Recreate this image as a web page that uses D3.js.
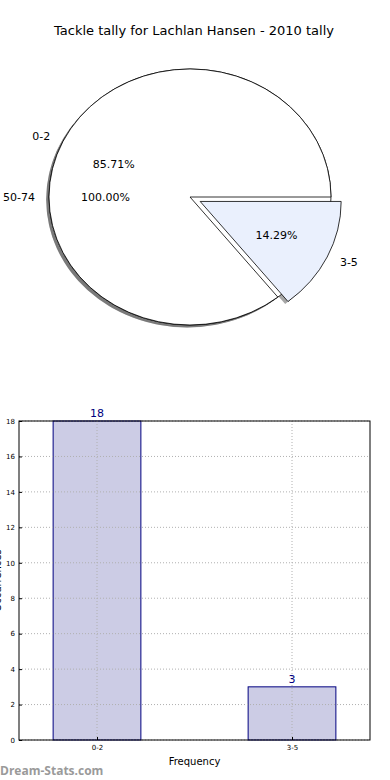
<!DOCTYPE html>
<html>
<head>
<meta charset="utf-8">
<script src="https://cdn.jsdelivr.net/npm/d3@7"></script>
<style>
  body { margin: 0; background: #fff; }
  svg { display: block; font-family: "DejaVu Sans", sans-serif; }
</style>
</head>
<body>
<div id="chart"></div>
<script>
const title = "Tackle tally for Lachlan Hansen - 2010 tally";

// old pie left underneath (single full slice)
const backLabels = ["50-74"];
const backValues = [1];

// current pie
const pieLabels = ["0-2", "3-5"];
const pieValues = [18, 3];
const pieColors = ["#ffffff", "#eaf0fd"];
const pieExplode = [0, 0.08];

// bar chart
const barCats = ["0-2", "3-5"];
const barValues = [18, 3];
const yTicks = [0, 2, 4, 6, 8, 10, 12, 14, 16, 18];

const width = 390, height = 780;
const svg = d3.select("#chart").append("svg")
    .attr("width", width)
    .attr("height", height);

svg.append("text")
    .attr("x", 194).attr("y", 35)
    .attr("text-anchor", "middle")
    .attr("font-size", 13)
    .text(title);

// ---- pie (ellipse: axes are not equal) ----
const cx = 190, cy = 197, rx = 141, ry = 128;

// matplotlib: start at 3 o'clock, counter-clockwise
const pie = d3.pie().sort(null).startAngle(Math.PI / 2).endAngle(Math.PI / 2 - 2 * Math.PI);
const arc = d3.arc().innerRadius(0).outerRadius(1);

function mid(d) {
    // convert d3 angle back to math angle
    const a = (d.startAngle + d.endAngle) / 2;
    return Math.PI / 2 - a;
}

function wedges(values, explode) {
    return pie(values).map((d, i) => {
        const t = mid(d);
        const e = explode ? explode[i] : 0;
        d.ox = cx + e * rx * Math.cos(t);
        d.oy = cy - e * ry * Math.sin(t);
        d.t = t;
        return d;
    });
}

const back = wedges(backValues, null);
const front = wedges(pieValues, pieExplode);
const total = d3.sum(pieValues);

const pg = svg.append("g");

function drawShadows(list) {
    pg.selectAll(null).data(list).enter().append("path")
        .attr("d", arc)
        .attr("transform", d => `translate(${d.ox - 0.02 * rx},${d.oy + 0.02 * ry}) scale(${rx},${ry})`)
        .attr("fill", "#4d4d4d")
        .attr("fill-opacity", 0.5)
        .attr("stroke", "none");
}
function drawWedges(list, colors) {
    pg.selectAll(null).data(list).enter().append("path")
        .attr("d", arc)
        .attr("transform", d => `translate(${d.ox},${d.oy}) scale(${rx},${ry})`)
        .attr("fill", (d, i) => colors[i])
        .attr("stroke", "#000")
        .attr("stroke-width", 0.8)
        .attr("vector-effect", "non-scaling-stroke");
}

// shadows sit under every wedge
drawShadows(back);
drawShadows(front);
drawWedges(back, ["#ffffff"]);
drawWedges(front, pieColors);

function drawTexts(list, labels, sum) {
    list.forEach((d, i) => {
        const c = Math.cos(d.t), s = Math.sin(d.t);
        pg.append("text")
            .attr("x", d.ox + 1.1 * rx * c)
            .attr("y", d.oy - 1.1 * ry * s)
            .attr("dy", "0.35em")
            .attr("text-anchor", c < 0 ? "end" : "start")
            .attr("font-size", 11)
            .text(labels[i]);
        pg.append("text")
            .attr("x", d.ox + 0.6 * rx * c)
            .attr("y", d.oy - 0.6 * ry * s)
            .attr("dy", "0.35em")
            .attr("text-anchor", "middle")
            .attr("font-size", 11)
            .text((100 * d.value / sum).toFixed(2) + "%");
    });
}
drawTexts(back, backLabels, d3.sum(backValues));
drawTexts(front, pieLabels, total);

// ---- bar chart ----
const m = { left: 19, right: 370, top: 421, bottom: 740 };
const x = d3.scaleLinear().domain([-0.4, barCats.length - 0.6]).range([m.left, m.right]);
const y = d3.scaleLinear().domain([0, 18]).range([m.bottom, m.top]);
const barW = 0.45;

const bg = svg.append("g");

bg.selectAll(".bar").data(barValues).enter().append("rect")
    .attr("class", "bar")
    .attr("x", (d, i) => x(i - barW / 2))
    .attr("width", x(barW) - x(0))
    .attr("y", d => y(d))
    .attr("height", d => y(0) - y(d))
    .attr("fill", "#cccce5")
    .attr("stroke", "#000080")
    .attr("stroke-width", 1);

// grid
bg.selectAll(".hg").data(yTicks).enter().append("line")
    .attr("x1", m.left).attr("x2", m.right)
    .attr("y1", d => y(d)).attr("y2", d => y(d))
    .attr("stroke", "#b0b0b0").attr("stroke-dasharray", "1,2");
bg.selectAll(".vg").data(barCats).enter().append("line")
    .attr("x1", (d, i) => x(i)).attr("x2", (d, i) => x(i))
    .attr("y1", m.top).attr("y2", m.bottom)
    .attr("stroke", "#b0b0b0").attr("stroke-dasharray", "1,2");

// frame
bg.append("rect")
    .attr("x", m.left).attr("y", m.top)
    .attr("width", m.right - m.left).attr("height", m.bottom - m.top)
    .attr("fill", "none").attr("stroke", "#000").attr("stroke-width", 1);

const yAxis = d3.axisLeft(y).tickValues(yTicks).tickSize(-3).tickPadding(4);
bg.append("g").attr("transform", `translate(${m.left},0)`).call(yAxis)
    .call(g => g.select(".domain").remove())
    .call(g => g.selectAll("text").attr("font-size", 7).attr("font-family", "DejaVu Sans"));

const xAxis = d3.axisBottom(x).tickValues(barCats.map((d, i) => i))
    .tickFormat(i => barCats[i]).tickSize(-3).tickPadding(5);
bg.append("g").attr("transform", `translate(0,${m.bottom})`).call(xAxis)
    .call(g => g.select(".domain").remove())
    .call(g => g.selectAll("text").attr("font-size", 7).attr("font-family", "DejaVu Sans"));

// value labels
bg.selectAll(".val").data(barValues).enter().append("text")
    .attr("x", (d, i) => x(i))
    .attr("y", d => y(d) - 4)
    .attr("text-anchor", "middle")
    .attr("font-size", 11)
    .attr("fill", "#000080")
    .text(d => d);

svg.append("text")
    .attr("x", (m.left + m.right) / 2).attr("y", 765)
    .attr("text-anchor", "middle")
    .attr("font-size", 10)
    .text("Frequency");

// y label sits mostly off the left edge, as in the original
svg.append("text")
    .attr("transform", `translate(1,${(m.top + m.bottom) / 2}) rotate(-90)`)
    .attr("text-anchor", "middle")
    .attr("font-size", 10)
    .text("Occurrences");

svg.append("text")
    .attr("x", 0).attr("y", 775)
    .attr("font-size", 12)
    .attr("font-weight", "bold")
    .attr("font-family", "Open Sans, sans-serif")
    .attr("fill", "#9a9a9a")
    .text("Dream-Stats.com");
</script>
</body>
</html>
